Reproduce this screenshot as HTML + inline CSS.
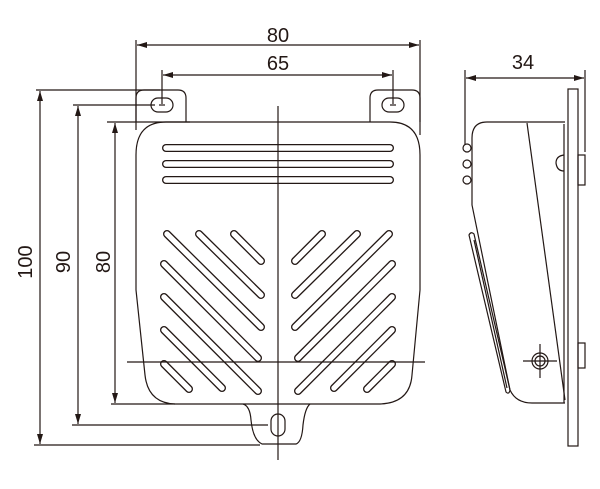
<!DOCTYPE html>
<html><head><style>html,body{margin:0;padding:0;background:#fff}svg{display:block}</style></head>
<body>
<svg width="600" height="489" viewBox="0 0 600 489" xmlns="http://www.w3.org/2000/svg" font-family="Liberation Sans, sans-serif">
<defs>
<marker id="a" viewBox="0 0 10 6" refX="10" refY="3" markerWidth="10" markerHeight="6" orient="auto-start-reverse" markerUnits="userSpaceOnUse"><path d="M0,0L10,3L0,6z" fill="#231815"/></marker>
</defs>
<g stroke="#231815" stroke-width="1.2" fill="none">
<line x1="136" y1="40" x2="136" y2="130"/>
<line x1="420" y1="40" x2="420" y2="135"/>
<line x1="137" y1="45" x2="419" y2="45" marker-start="url(#a)" marker-end="url(#a)"/>
<line x1="162" y1="70" x2="162" y2="104"/>
<line x1="393" y1="70" x2="393" y2="104"/>
<line x1="163" y1="75" x2="392" y2="75" marker-start="url(#a)" marker-end="url(#a)"/>
<line x1="36" y1="90" x2="160" y2="90"/>
<line x1="34" y1="445" x2="260" y2="445"/>
<line x1="40" y1="91" x2="40" y2="444" marker-start="url(#a)" marker-end="url(#a)"/>
<line x1="73" y1="105" x2="155" y2="105"/>
<line x1="72" y1="425" x2="268" y2="425"/>
<line x1="78" y1="106" x2="78" y2="424" marker-start="url(#a)" marker-end="url(#a)"/>
<line x1="107" y1="122" x2="190" y2="122"/>
<line x1="111" y1="404" x2="175" y2="404"/>
<line x1="115" y1="123" x2="115" y2="403" marker-start="url(#a)" marker-end="url(#a)"/>
<path d="M136,122 V98 Q136,90 144,90 H178 Q186,90 186,98 V122"/>
<path d="M370,122 V98 Q370,90 378,90 H412 Q420,90 420,98 V122"/>
<rect x="151" y="98" width="22" height="14" rx="7"/>
<rect x="382" y="98" width="22" height="14" rx="7"/>
<line x1="159" y1="105" x2="165" y2="105"/>
<line x1="390" y1="105" x2="396" y2="105"/>
<path d="M166,122 H390 Q420,122 420,155 V290 L412,375 Q410,403 380,404 H175 Q148,403 145,375 L136,290 V155 Q136,122 166,122 Z"/>
<path d="M243,404 Q250,406 251,420 Q253,440 262,444 H296 Q302,442 303,425 Q305,408 310,404"/>
<rect x="271" y="414" width="14" height="22" rx="7"/>
</g>
<g stroke-linecap="round" fill="none">
<g stroke="#231815" stroke-width="8">
<line x1="166" y1="148" x2="390" y2="148"/><line x1="166" y1="164" x2="390" y2="164"/><line x1="166" y1="180" x2="390" y2="180"/>
<line x1="167" y1="234" x2="261" y2="327"/><line x1="199" y1="234" x2="261" y2="295"/><line x1="234" y1="234" x2="261" y2="261"/>
<line x1="164" y1="264" x2="258" y2="358"/><line x1="164" y1="297" x2="258" y2="391"/><line x1="164" y1="330" x2="222" y2="388"/><line x1="164" y1="364" x2="189" y2="389"/>
<line x1="389" y1="234" x2="295" y2="327"/><line x1="357" y1="234" x2="295" y2="295"/><line x1="322" y1="234" x2="295" y2="261"/>
<line x1="392" y1="264" x2="298" y2="358"/><line x1="392" y1="297" x2="298" y2="391"/><line x1="392" y1="330" x2="334" y2="388"/><line x1="392" y1="364" x2="367" y2="389"/>
</g>
<g stroke="#fff" stroke-width="5.4">
<line x1="166" y1="148" x2="390" y2="148"/><line x1="166" y1="164" x2="390" y2="164"/><line x1="166" y1="180" x2="390" y2="180"/>
<line x1="167" y1="234" x2="261" y2="327"/><line x1="199" y1="234" x2="261" y2="295"/><line x1="234" y1="234" x2="261" y2="261"/>
<line x1="164" y1="264" x2="258" y2="358"/><line x1="164" y1="297" x2="258" y2="391"/><line x1="164" y1="330" x2="222" y2="388"/><line x1="164" y1="364" x2="189" y2="389"/>
<line x1="389" y1="234" x2="295" y2="327"/><line x1="357" y1="234" x2="295" y2="295"/><line x1="322" y1="234" x2="295" y2="261"/>
<line x1="392" y1="264" x2="298" y2="358"/><line x1="392" y1="297" x2="298" y2="391"/><line x1="392" y1="330" x2="334" y2="388"/><line x1="392" y1="364" x2="367" y2="389"/>
</g>
</g>
<g stroke="#231815" stroke-width="1.2" fill="none">
<line x1="278" y1="106" x2="278" y2="460"/>
<line x1="127" y1="362" x2="425" y2="362"/>
<line x1="465" y1="70" x2="465" y2="145"/>
<line x1="585" y1="70" x2="585" y2="152"/>
<line x1="466" y1="78" x2="584" y2="78" marker-start="url(#a)" marker-end="url(#a)"/>
<rect x="568" y="89" width="10" height="357"/>
<rect x="578" y="155" width="7" height="30"/>
<rect x="578" y="343" width="7" height="25"/>
<path d="M565,122 H487 Q472,122 472,138 V205 L510,390 Q516,403 532,403 H565"/>
<line x1="564" y1="124" x2="564" y2="403"/>
<line x1="527" y1="123" x2="565" y2="400"/>
<path d="M564,155 Q556,156 556,163 Q557,171 564,171"/>
<circle cx="467" cy="148" r="4"/><circle cx="467" cy="164" r="4"/><circle cx="467" cy="180" r="4"/>
<path d="M469,235 Q471,231 474,234 L510,390 Q509,395 506,392 Z"/>
<line x1="474" y1="240" x2="507" y2="388"/>
<circle cx="540" cy="361" r="8"/><circle cx="540" cy="361" r="5"/>
<line x1="523" y1="361" x2="557" y2="361"/><line x1="540" y1="344" x2="540" y2="378"/>
</g>
<g fill="#231815" font-size="20" text-anchor="middle">
<text x="278" y="42">80</text>
<text x="278" y="70">65</text>
<text x="523" y="69">34</text>
<text transform="translate(32,262) rotate(-90)">100</text>
<text transform="translate(70,262) rotate(-90)">90</text>
<text transform="translate(110,262) rotate(-90)">80</text>
</g>
</svg>
</body></html>
